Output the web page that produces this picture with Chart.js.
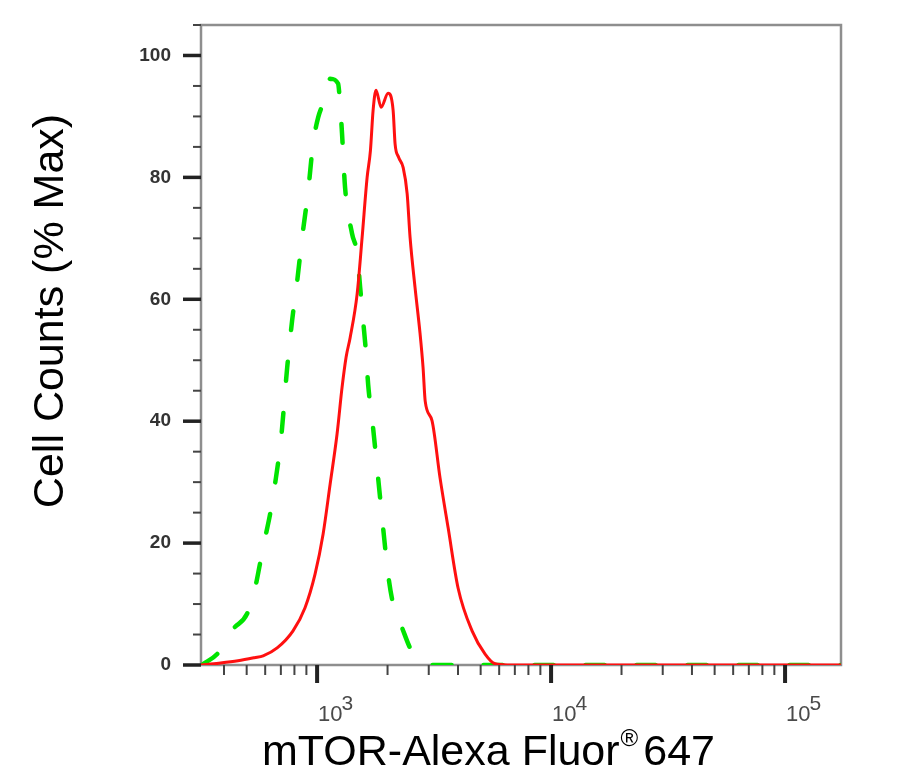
<!DOCTYPE html>
<html>
<head>
<meta charset="utf-8">
<script src="https://cdn.jsdelivr.net/npm/chart.js@4.4.1/dist/chart.umd.min.js"></script>
<style>
  html, body { margin: 0; padding: 0; background: #fff; }
  #wrap { width: 911px; height: 779px; }
</style>
</head>
<body>
<div id="wrap"><canvas id="chart" width="911" height="779"></canvas></div>
<script>
// ===============================
// Data
// ===============================
const xMin = 319;
const xMax = 173400;
const yMin = 0;
const yMax = 105;

const yTickValues = [0, 20, 40, 60, 80, 100];
const yMinorValues = [5, 10, 15, 25, 30, 35, 45, 50, 55, 65, 70, 75, 85, 90, 95, 105];
const xMajorValues = [1000, 10000, 100000];
const xMajorExponents = ['3', '4', '5'];
const xMinorValues = [400, 500, 600, 700, 800, 900,
  2000, 3000, 4000, 5000, 6000, 7000, 8000, 9000,
  20000, 30000, 40000, 50000, 60000, 70000, 80000, 90000];

const xTitle = 'mTOR-Alexa Fluor';
const xTitleMark = '\u00AE';
const xTitleTail = '647';
const yTitle = 'Cell Counts (% Max)';

// control (green dashed)
const controlX = [322, 378, 438, 502, 543, 570, 600, 630, 661, 702, 745, 782, 822, 863, 916, 961, 1010,
  1103, 1137, 1229, 1254, 1278, 1317, 1410, 1483, 1528, 1573, 1619, 1652, 1735, 1823, 1915, 2011,
  2113, 2308, 2497, 2750, 2979, 173400];
const controlY = [0, 2, 5.9, 8.4, 12.6, 16.6, 20.9, 24.8, 29.7, 37.3, 48.8, 56.5, 63, 70.1, 77.8, 85.5, 89.8,
  93.8, 96.2, 95.4, 92, 87.2, 78.3, 70.8, 67.5, 61.9, 56.5, 51.1, 46.1, 38.9, 30.7, 22.5, 14.9,
  10, 6.1, 2.8, 0.5, 0, 0];

// mTOR stained (red solid)
const mtorX = [319, 380, 459, 540, 588, 675, 789, 888, 980, 1061, 1137, 1217, 1278, 1330, 1384, 1483,
  1557, 1636, 1690, 1735, 1786, 1877, 2011, 2113, 2154, 2230, 2333, 2426, 2497, 2622, 2754, 2837,
  2897, 3098, 3353, 3631, 4006, 4595, 5224, 5765, 6500, 173400];
const mtorY = [0, 0.3, 0.7, 1.2, 1.5, 2.8, 5.6, 9.4, 14.9, 21.5, 29.7, 37.9, 45.5, 50.5, 53.7, 60.9,
  70.1, 80, 84.4, 91, 94.3, 91.5, 93.8, 91, 85.5, 83.3, 81.6, 77.3, 70.1, 61.9, 54.4, 48.8,
  43.3, 40.1, 30.7, 22.5, 12.6, 5.6, 1.8, 0.2, 0, 0];

const toPoints = (xs, ys) => xs.map((x, i) => ({ x: x, y: ys[i] }));

// ------------------------------
// Axis frame, tick marks, x labels and titles
// ------------------------------
const axisDecor = {
  id: 'axisDecor',
  beforeDatasetsDraw(chart) {
    const ctx = chart.ctx;
    const a = chart.chartArea;
    const xs = chart.scales.x;
    const ys = chart.scales.y;
    ctx.save();

    // box
    ctx.strokeStyle = '#8e8e8e';
    ctx.lineWidth = 2.5;
    ctx.beginPath();
    ctx.moveTo(a.left, a.bottom);
    ctx.lineTo(a.left, a.top);
    ctx.lineTo(a.right, a.top);
    ctx.lineTo(a.right, a.bottom);
    ctx.lineTo(a.left, a.bottom);
    ctx.stroke();

    // y ticks
    ctx.strokeStyle = '#444';
    ctx.lineWidth = 2;
    yMinorValues.forEach(v => {
      const y = ys.getPixelForValue(v);
      ctx.beginPath(); ctx.moveTo(a.left - 8, y); ctx.lineTo(a.left, y); ctx.stroke();
    });
    ctx.strokeStyle = '#222';
    ctx.lineWidth = 3.5;
    yTickValues.forEach(v => {
      const y = ys.getPixelForValue(v);
      ctx.beginPath(); ctx.moveTo(a.left - 18, y); ctx.lineTo(a.left, y); ctx.stroke();
    });

    // x ticks
    ctx.strokeStyle = '#444';
    ctx.lineWidth = 2;
    xMinorValues.forEach(v => {
      const x = xs.getPixelForValue(v);
      ctx.beginPath(); ctx.moveTo(x, a.bottom); ctx.lineTo(x, a.bottom + 10); ctx.stroke();
    });
    ctx.strokeStyle = '#222';
    ctx.lineWidth = 4;
    xMajorValues.forEach(v => {
      const x = xs.getPixelForValue(v);
      ctx.beginPath(); ctx.moveTo(x, a.bottom); ctx.lineTo(x, a.bottom + 18); ctx.stroke();
    });
    ctx.restore();
  },
  afterDraw(chart) {
    const ctx = chart.ctx;
    const a = chart.chartArea;
    const xs = chart.scales.x;
    ctx.save();

    // x tick labels 10^n
    ctx.fillStyle = '#4a4a4a';
    ctx.textBaseline = 'alphabetic';
    ctx.textAlign = 'left';
    xMajorValues.forEach((v, i) => {
      const x = xs.getPixelForValue(v);
      ctx.font = '22px "Liberation Sans", Arial, sans-serif';
      ctx.fillText('10', x + 1, a.bottom + 56);
      const w = ctx.measureText('10').width;
      ctx.font = '21px "Liberation Sans", Arial, sans-serif';
      ctx.fillText(xMajorExponents[i], x + w, a.bottom + 45);
    });

    // x title with small raised (R)
    ctx.fillStyle = '#000';
    const big = '43px "Liberation Sans", Arial, sans-serif';
    const small = '24px "Liberation Sans", Arial, sans-serif';
    let tx = 262;
    const base = 765;
    ctx.font = big;
    ctx.fillText(xTitle, tx, base);
    tx += ctx.measureText(xTitle).width;
    ctx.font = small;
    ctx.fillText(xTitleMark, tx + 1, base - 19);
    tx += ctx.measureText(xTitleMark).width + 6;
    ctx.font = big;
    ctx.fillText(xTitleTail, tx, base);

    // y title
    ctx.translate(63, 311);
    ctx.rotate(-Math.PI / 2);
    ctx.textAlign = 'center';
    ctx.font = big;
    ctx.fillText(yTitle, 0, 0);
    ctx.restore();
  }
};

const ctx = document.getElementById('chart').getContext('2d');
new Chart(ctx, {
  type: 'line',
  data: {
    datasets: [{
      label: 'mTOR',
      data: toPoints(mtorX, mtorY),
      borderColor: '#ff1010',
      borderWidth: 3,
      pointRadius: 0,
      cubicInterpolationMode: 'monotone',
      fill: false
    }, {
      label: 'Control',
      data: toPoints(controlX, controlY),
      borderColor: '#00e400',
      borderWidth: 4.5,
      borderDash: [19, 32],
      borderCapStyle: 'round',
      pointRadius: 0,
      cubicInterpolationMode: 'monotone',
      fill: false
    }]
  },
  options: {
    responsive: false,
    animation: false,
    layout: { padding: { left: 0, top: 25, right: 70, bottom: 0 } },
    plugins: { legend: { display: false }, tooltip: { enabled: false } },
    scales: {
      x: {
        type: 'logarithmic',
        min: xMin,
        max: xMax,
        grid: { display: false, drawTicks: false },
        border: { display: false },
        ticks: { display: false },
        afterFit: scale => { scale.height = 114; }
      },
      y: {
        type: 'linear',
        min: yMin,
        max: yMax,
        grid: { display: false, drawTicks: true, tickLength: 30 },
        border: { display: false },
        afterBuildTicks: scale => { scale.ticks = yTickValues.map(v => ({ value: v })); },
        ticks: {
          padding: 0,
          color: '#333',
          font: { family: '"Liberation Sans", Arial, sans-serif', size: 19, weight: 'bold' },
          callback: v => String(v)
        },
        afterFit: scale => { scale.width = 201; }
      }
    }
  },
  plugins: [axisDecor]
});
</script>
</body>
</html>
